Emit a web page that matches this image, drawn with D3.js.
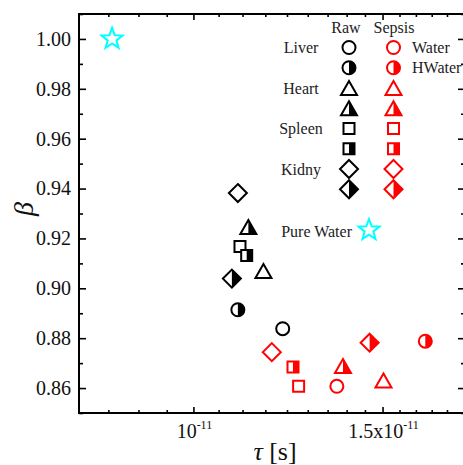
<!DOCTYPE html>
<html>
<head>
<meta charset="utf-8">
<script src="https://cdn.jsdelivr.net/npm/d3@7"></script>
<style>
  body { margin: 0; background: #fff; }
  svg { font-family: "Liberation Serif", "Times New Roman", serif; }
</style>
</head>
<body>
<div id="chart"></div>
<script>
// organs in legend order
const organs = ["Liver", "Heart", "Spleen", "Kidny"];
const shapes = ["circle", "triangle", "square", "diamond"];

// tau in seconds, beta dimensionless
const rawWaterTau = [1.211e-11, 1.162e-11, 1.105e-11, 1.100e-11];
const rawWaterBeta = [0.8838, 0.9069, 0.9168, 0.9382];
const rawHWaterTau = [1.100e-11, 1.125e-11, 1.121e-11, 1.086e-11];
const rawHWaterBeta = [0.8914, 0.9246, 0.9132, 0.9039];
const sepsisWaterTau = [1.360e-11, 1.503e-11, 1.253e-11, 1.183e-11];
const sepsisWaterBeta = [0.8607, 0.8630, 0.8607, 0.8744];
const sepsisHWaterTau = [1.644e-11, 1.378e-11, 1.238e-11, 1.459e-11];
const sepsisHWaterBeta = [0.8788, 0.8688, 0.8684, 0.8782];
const pureWaterTau = [0.840e-11];
const pureWaterBeta = [1.000];

const xMajor = [1e-11, 1.5e-11];
const xMajorLabels = [["10", "-11"], ["1.5x10", "-11"]];
const yMajor = [0.86, 0.88, 0.90, 0.92, 0.94, 0.96, 0.98, 1.00];

const W = 463, H = 465;
const margin = {left: 79, top: 14, right: -2, bottom: 52};

const svg = d3.select("#chart").append("svg")
    .attr("width", W)
    .attr("height", H);

const x = d3.scaleLog()
    .domain([0.7825e-11, 1.79e-11])
    .range([margin.left, W - margin.right]);
const y = d3.scaleLinear()
    .domain([0.85, 1.01])
    .range([H - margin.bottom, margin.top]);

const xMinor = d3.range(-3, 14).map(n => 1e-11 + n * 0.5e-11 / 9)
    .filter(v => v > x.domain()[0] && v < x.domain()[1] && !xMajor.some(m => Math.abs(m - v) < 1e-15));
const yMinor = d3.range(0.85, 1.01, 0.02).map(v => +v.toFixed(2));

// ticks, all pointing inward
function tickGroup(axis, tx, ty) {
    const g = svg.append("g")
        .attr("transform", `translate(${tx},${ty})`)
        .call(axis);
    g.select(".domain").remove();
    g.selectAll(".tick line").attr("stroke-width", 1.6);
    return g;
}
const x0 = margin.left, x1 = W - margin.right;
const y0 = H - margin.bottom, y1 = margin.top;

tickGroup(d3.axisBottom(x).tickValues(xMajor).tickSize(-6).tickFormat(""), 0, y0);
tickGroup(d3.axisBottom(x).tickValues(xMinor).tickSize(-3).tickFormat(""), 0, y0);
tickGroup(d3.axisTop(x).tickValues(xMajor).tickSize(-6).tickFormat(""), 0, y1);
tickGroup(d3.axisTop(x).tickValues(xMinor).tickSize(-3).tickFormat(""), 0, y1);

const yAxisG = tickGroup(d3.axisLeft(y).tickValues(yMajor).tickSize(-7).tickPadding(8)
    .tickFormat(d3.format(".2f")), x0, 0);
yAxisG.selectAll("text")
    .attr("font-size", 20)
    .attr("font-family", "Liberation Serif")
    .attr("fill", "#111");
tickGroup(d3.axisLeft(y).tickValues(yMinor).tickSize(-4).tickFormat(""), x0, 0);
tickGroup(d3.axisRight(y).tickValues(yMajor).tickSize(-7).tickFormat(""), x1, 0);
tickGroup(d3.axisRight(y).tickValues(yMinor).tickSize(-4).tickFormat(""), x1, 0);

svg.append("rect")
    .attr("x", x0).attr("y", y1)
    .attr("width", x1 - x0).attr("height", y0 - y1)
    .attr("fill", "none")
    .attr("stroke", "#000")
    .attr("stroke-width", 2);

// x tick labels with superscripts
xMajor.forEach((v, i) => {
    const t = svg.append("text")
        .attr("x", x(v) + 1)
        .attr("y", 438)
        .attr("text-anchor", "middle")
        .attr("font-size", 20)
        .attr("fill", "#111");
    t.append("tspan").text(xMajorLabels[i][0]);
    t.append("tspan").attr("dy", -9).attr("font-size", 12).text(xMajorLabels[i][1]);
});

// axis titles
const xt = svg.append("text")
    .attr("x", 275).attr("y", 460)
    .attr("text-anchor", "middle")
    .attr("font-size", 26)
    .attr("fill", "#111");
xt.append("tspan").attr("font-style", "italic").text("τ");
xt.append("tspan").text(" [s]");

svg.append("text")
    .attr("transform", "translate(33,209) rotate(-90)")
    .attr("text-anchor", "middle")
    .attr("font-size", 28)
    .attr("font-style", "italic")
    .attr("fill", "#111")
    .text("β");

// marker shapes: outline path and right-half path
const shapePaths = {
    circle: {
        full: "M0,-6.5A6.5,6.5 0 1,1 0,6.5A6.5,6.5 0 1,1 0,-6.5Z",
        half: "M0,-6.5A6.5,6.5 0 0,1 0,6.5Z"
    },
    triangle: {
        full: "M0,-7L8,7L-8,7Z",
        half: "M0,-7L8,7L0,7Z"
    },
    square: {
        full: "M-5.5,-5.5H5.5V5.5H-5.5Z",
        half: "M0,-5.5H5.5V5.5H0Z"
    },
    diamond: {
        full: "M0,-9L9,0L0,9L-9,0Z",
        half: "M0,-9L9,0L0,9Z"
    }
};

function drawMarker(g, shape, color, half) {
    g.append("path")
        .attr("d", shapePaths[shape].full)
        .attr("fill", "#fff");
    if (half) {
        g.append("path")
            .attr("d", shapePaths[shape].half)
            .attr("fill", color);
    }
    g.append("path")
        .attr("d", shapePaths[shape].full)
        .attr("fill", "none")
        .attr("stroke", color)
        .attr("stroke-width", 2)
        .attr("stroke-linejoin", "miter");
}

const starPath = d3.range(10).map(i => {
    const r = i % 2 === 0 ? 11 : 4.6;
    const a = -Math.PI / 2 + i * Math.PI / 5;
    return [r * Math.cos(a), r * Math.sin(a)];
});
function drawStar(g) {
    g.append("path")
        .attr("d", "M" + starPath.join("L") + "Z")
        .attr("fill", "#fff")
        .attr("stroke", "#00ffff")
        .attr("stroke-width", 2)
        .attr("stroke-linejoin", "miter");
}

const series = [
    {tau: rawWaterTau, beta: rawWaterBeta, color: "#000", half: false},
    {tau: rawHWaterTau, beta: rawHWaterBeta, color: "#000", half: true},
    {tau: sepsisWaterTau, beta: sepsisWaterBeta, color: "#ff0000", half: false},
    {tau: sepsisHWaterTau, beta: sepsisHWaterBeta, color: "#ff0000", half: true}
];

// legend
const legend = svg.append("g");
const colX = [349, 393.5];
const rowY = i => 47.5 + i * 20.25;
legend.append("text").attr("x", 346).attr("y", 33).attr("text-anchor", "middle")
    .attr("font-size", 16).attr("fill", "#222").text("Raw");
legend.append("text").attr("x", 394).attr("y", 33).attr("text-anchor", "middle")
    .attr("font-size", 16).attr("fill", "#222").text("Sepsis");
organs.forEach((name, i) => {
    legend.append("text")
        .attr("x", 301).attr("y", rowY(i * 2) + 5.5)
        .attr("text-anchor", "middle")
        .attr("font-size", 16).attr("fill", "#222")
        .text(name);
    [0, 1].forEach(h => {
        ["#000", "#ff0000"].forEach((c, ci) => {
            drawMarker(legend.append("g")
                .attr("transform", `translate(${colX[ci]},${rowY(i * 2 + h)})`), shapes[i], c, h === 1);
        });
    });
});
["Water", "HWater"].forEach((t, i) => {
    legend.append("text")
        .attr("x", 412).attr("y", rowY(i) + 5.5)
        .attr("font-size", 16).attr("fill", "#222")
        .text(t);
});
legend.append("text")
    .attr("x", 352).attr("y", 236.5)
    .attr("text-anchor", "end")
    .attr("font-size", 16).attr("fill", "#222")
    .text("Pure Water");
drawStar(legend.append("g").attr("transform", "translate(369,230)"));

// data points
const pts = svg.append("g");
series.forEach(s => {
    s.tau.forEach((t, i) => {
        drawMarker(pts.append("g")
            .attr("transform", `translate(${x(t)},${y(s.beta[i])})`), shapes[i], s.color, s.half);
    });
});
pureWaterTau.forEach((t, i) => {
    drawStar(pts.append("g").attr("transform", `translate(${x(t)},${y(pureWaterBeta[i])})`));
});
</script>
</body>
</html>
